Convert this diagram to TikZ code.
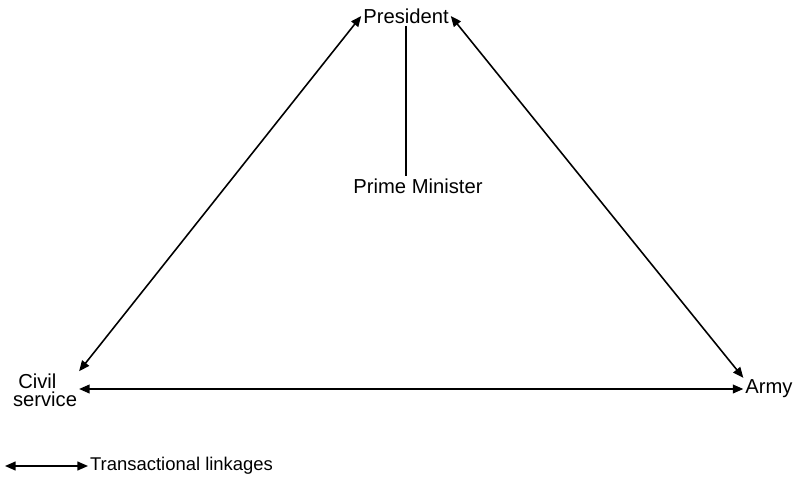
\documentclass[tikz,border=0pt]{standalone}
\usepackage{fontspec}
\setmainfont{Liberation Sans}
\usetikzlibrary{arrows.meta, positioning}

\begin{document}
\begin{tikzpicture}[
        x=0.02cm, y=-0.02cm,
        actor/.style = {font=\fontsize{11.5}{10.5}\selectfont, inner sep=1pt, align=center},
        link/.style = {line width=0.9pt, {Triangle[length=6pt,width=5pt]}-{Triangle[length=6pt,width=5pt]}},
        tie/.style = {line width=0.9pt}
    ]
    \useasboundingbox (0,0) rectangle (799,480);

    \node [actor] (president) at (406,16) {President};
    \node [actor] (pm) at (418,186) {Prime Minister};
    \node [actor, align=left] (civil) at (45,390) {\hspace{3pt}Civil\\service};
    \node [actor] (army) at (769,389) {Army};

    \draw [link] (civil.north east) -- (president.west);
    \draw [link] (army.north west) -- (president.east);
    \draw [link] (civil.east |- army.west) -- (army.west);
    \draw [tie] (president.south) -- (president.south |- pm.north);

    % key
    \node [actor, anchor=west, font=\fontsize{10.5}{12}\selectfont] (key) at (88,466) {Transactional linkages};
    \coordinate (keystart) at (5,466);
    \draw [link] (keystart) -- (key.west);
\end{tikzpicture}
\end{document}
